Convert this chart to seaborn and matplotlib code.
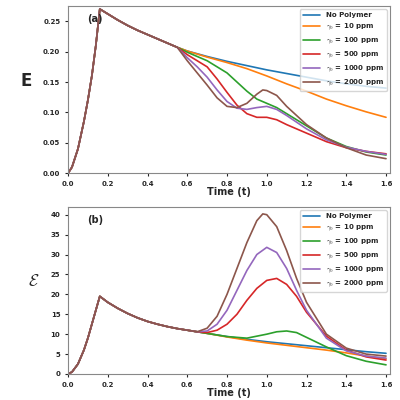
import numpy as np
import pandas as pd
import seaborn as sns
from matplotlib import pyplot as plt

# shared early part of every curve
t_head = [0.0, 0.02, 0.05, 0.08, 0.10, 0.12, 0.14, 0.16, 0.20, 0.25, 0.30, 0.35, 0.40, 0.45, 0.50, 0.55]
e_head = [0.0, 0.01, 0.04, 0.085, 0.12, 0.16, 0.21, 0.27, 0.262, 0.252, 0.243, 0.235, 0.228, 0.221, 0.214, 0.207]
t_head_b = t_head + [0.60, 0.65]
s_head = [0.0, 0.5, 2.5, 6.0, 9.0, 12.5, 16.0, 19.5, 18.0, 16.5, 15.2, 14.1, 13.2, 12.5, 11.9, 11.4, 11.0, 10.6]

labels = ["No Polymer", "$\\gamma_0$ = 10 ppm", "$\\gamma_0$ = 100 ppm",
          "$\\gamma_0$ = 500 ppm", "$\\gamma_0$ = 1000 ppm", "$\\gamma_0$ = 2000 ppm"]

# panel (a) tails
t_a = [
    [0.6, 0.7, 0.8, 0.9, 1.0, 1.1, 1.2, 1.3, 1.4, 1.5, 1.6],
    [0.6, 0.7, 0.8, 0.9, 1.0, 1.1, 1.2, 1.3, 1.4, 1.5, 1.6],
    [0.6, 0.7, 0.8, 0.85, 0.9, 0.95, 1.0, 1.05, 1.1, 1.2, 1.3, 1.4, 1.5, 1.6],
    [0.6, 0.7, 0.75, 0.8, 0.85, 0.9, 0.95, 1.0, 1.05, 1.1, 1.2, 1.3, 1.4, 1.5, 1.6],
    [0.6, 0.65, 0.7, 0.75, 0.8, 0.85, 0.9, 0.95, 1.0, 1.05, 1.1, 1.2, 1.3, 1.4, 1.5, 1.6],
    [0.6, 0.65, 0.7, 0.75, 0.8, 0.85, 0.9, 0.95, 0.98, 1.0, 1.05, 1.1, 1.2, 1.3, 1.4, 1.5, 1.6],
]
e_a = [
    [0.201, 0.192, 0.184, 0.177, 0.170, 0.164, 0.158, 0.152, 0.147, 0.143, 0.140],
    [0.201, 0.191, 0.182, 0.172, 0.160, 0.147, 0.135, 0.122, 0.111, 0.101, 0.092],
    [0.199, 0.185, 0.165, 0.150, 0.135, 0.122, 0.115, 0.108, 0.098, 0.078, 0.058, 0.044, 0.035, 0.030],
    [0.195, 0.175, 0.155, 0.133, 0.112, 0.098, 0.092, 0.092, 0.088, 0.080, 0.066, 0.052, 0.042, 0.036, 0.032],
    [0.190, 0.175, 0.158, 0.137, 0.118, 0.107, 0.105, 0.108, 0.110, 0.105, 0.095, 0.073, 0.055, 0.043, 0.036, 0.031],
    [0.185, 0.165, 0.145, 0.124, 0.110, 0.108, 0.115, 0.130, 0.137, 0.136, 0.128, 0.110, 0.080, 0.058, 0.042, 0.030, 0.024],
]

# panel (b) tails
t_b = [
    [0.7, 0.8, 0.9, 1.0, 1.1, 1.2, 1.3, 1.4, 1.5, 1.6],
    [0.7, 0.8, 0.9, 1.0, 1.1, 1.2, 1.3, 1.4, 1.5, 1.6],
    [0.7, 0.8, 0.9, 1.0, 1.05, 1.1, 1.15, 1.2, 1.3, 1.4, 1.5, 1.6],
    [0.7, 0.75, 0.8, 0.85, 0.9, 0.95, 1.0, 1.05, 1.1, 1.15, 1.2, 1.3, 1.4, 1.5, 1.6],
    [0.7, 0.75, 0.8, 0.85, 0.9, 0.95, 1.0, 1.05, 1.1, 1.15, 1.2, 1.3, 1.4, 1.5, 1.6],
    [0.7, 0.75, 0.8, 0.85, 0.9, 0.95, 0.98, 1.0, 1.05, 1.1, 1.15, 1.2, 1.3, 1.4, 1.5, 1.6],
]
s_b = [
    [10.2, 9.4, 8.7, 8.1, 7.6, 7.1, 6.6, 6.1, 5.6, 5.2],
    [10.2, 9.3, 8.5, 7.8, 7.2, 6.6, 6.0, 5.3, 4.5, 3.8],
    [10.2, 9.4, 9.0, 10.0, 10.6, 10.8, 10.4, 9.2, 6.8, 4.6, 3.2, 2.3],
    [10.4, 11.0, 12.5, 15.0, 18.5, 21.5, 23.5, 24.0, 22.5, 19.5, 15.5, 9.5, 6.0, 4.3, 3.5],
    [10.8, 12.5, 16.0, 21.0, 26.0, 30.0, 31.8, 30.5, 26.5, 21.0, 16.0, 9.0, 5.8, 4.5, 4.0],
    [11.5, 14.5, 20.0, 26.5, 33.0, 38.5, 40.2, 40.0, 37.0, 31.0, 24.0, 18.0, 10.0, 6.5, 5.0, 4.5],
]


def build(head_t, head_v, tails_t, tails_v):
    rows = []
    for lab, tt, vv in zip(labels, tails_t, tails_v):
        for t, v in zip(head_t + tt, head_v + vv):
            rows.append((lab, t, v))
    return pd.DataFrame(rows, columns=["series", "t", "v"])


df_a = build(t_head, e_head, t_a, e_a)
df_b = build(t_head_b, s_head, t_b, s_b)

sns.set_style("ticks")
plt.rcParams["font.family"] = ["DejaVu Sans"]
plt.rcParams["font.weight"] = "bold"
plt.rcParams["axes.labelweight"] = "bold"
plt.rcParams["mathtext.fontset"] = "cm"
plt.rcParams["axes.edgecolor"] = "#888888"

fig, axes = plt.subplots(2, 1, figsize=(4, 4), dpi=100)
palette = sns.color_palette("tab10", 6)

for ax, df, ylab, ylim, yticks, tag in [
    (axes[0], df_a, "E", 0.275, np.arange(0, 0.26, 0.05), "(a)"),
    (axes[1], df_b, "$\\mathcal{E}$", 42, np.arange(0, 41, 5), "(b)"),
]:
    sns.lineplot(data=df, x="t", y="v", hue="series", palette=palette, ax=ax,
                 linewidth=1.2, sort=False, estimator=None)
    ax.set_xlim(0, 1.62)
    ax.set_ylim(0, ylim)
    ax.set_yticks(yticks)
    ax.set_xticks(np.arange(0, 1.61, 0.2))
    ax.tick_params(labelsize=5, length=2)
    ax.set_xlabel("Time (t)", fontsize=7, labelpad=0)
    ax.set_ylabel(ylab, fontsize=12, rotation=0, labelpad=12)
    ax.text(0.06, 0.95, tag, transform=ax.transAxes, fontsize=7, fontweight="bold", va="top")
    ax.legend(title=None, fontsize=5, loc="upper right", handlelength=2.5)

axes[0].set_yticklabels([f"{v:.2f}" for v in np.arange(0, 0.26, 0.05)])
fig.subplots_adjust(left=0.17, right=0.975, top=0.985, bottom=0.065, hspace=0.2)
fig.savefig("out.png", dpi=100)
